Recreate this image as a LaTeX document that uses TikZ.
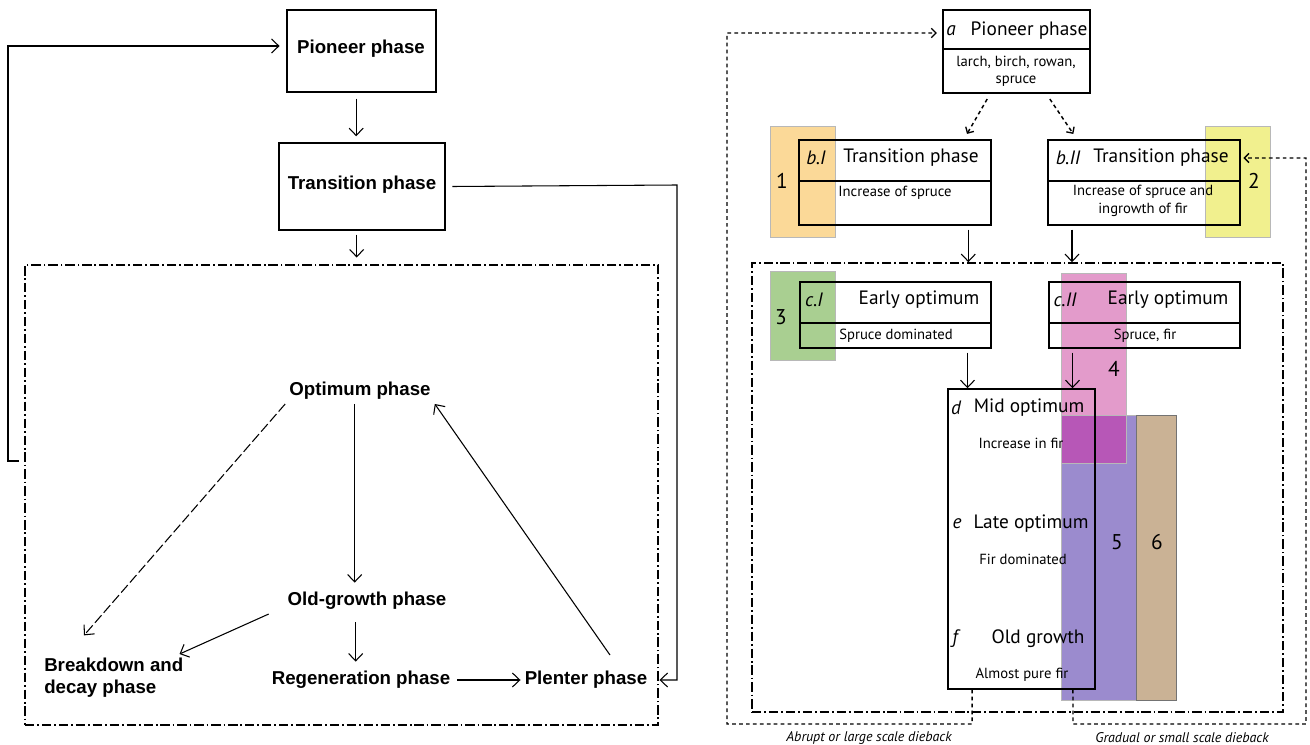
\documentclass[tikz,border=0pt]{standalone}
\usepackage{fontspec}
\setmainfont{PT Sans}
\newfontfamily\lfont{Liberation Sans}
\usetikzlibrary{arrows.meta,fit}
\definecolor{cOr}{HTML}{FBD998}
\definecolor{cYe}{HTML}{F1F08E}
\definecolor{cGr}{HTML}{A9CF91}
\definecolor{cPk}{HTML}{E39BCB}
\definecolor{cMg}{HTML}{B757B7}
\definecolor{cPu}{HTML}{9B8BCE}
\definecolor{cTa}{HTML}{CAB295}
\begin{document}
\begin{tikzpicture}[x=0.75pt,y=-0.75pt,
  box/.style={draw, line width=1.1pt, inner sep=0pt, fit={#1}},
  patch/.style={draw=black!28, line width=0.7pt, fill=#1, inner sep=0pt},
  lt/.style={font=\lfont\bfseries\fontsize{14}{16.5}\selectfont, inner sep=3pt},
  ht/.style={font=\fontsize{14.5}{17}\selectfont, inner sep=0pt},
  st/.style={font=\fontsize{11}{13}\selectfont, inner sep=0pt, align=center},
  num/.style={font=\fontsize{16}{18}\selectfont, inner sep=0pt},
  captxt/.style={font=\itshape\fontsize{10.5}{12}\selectfont, inner sep=0pt},
  arr/.style={line width=0.8pt, -{Straight Barb[length=5.5pt,width=10.5pt,line width=0.8pt]}},
  darr/.style={line width=1.1pt, dash pattern=on 2.8pt off 2.4pt, -{Straight Barb[length=3.5pt,width=7pt,line width=1pt]}},
  ddot/.style={draw, line width=1.2pt, dash pattern=on 7pt off 2.2pt on 1.3pt off 2.2pt, inner sep=0pt}]
\useasboundingbox (0,0) rectangle (1310,745);

% ---------------- left diagram ----------------
\node[box={(287,10) (436,92)}] (pioL) {};
\node[lt] (pioLt) at (361,49) {Pioneer phase};
\node[box={(279,143) (445,230)}] (traL) {};
\node[lt] (traLt) at (362,185) {Transition phase};
\node[ddot, fit={(25,265) (658,725)}] (cycL) {};

\node[lt] (opt) at (360,391) {Optimum phase};
\node[lt] (old) at (367,601) {Old-growth phase};
\node[lt, align=left, anchor=west] (brk) at (40,678) {Breakdown and\\decay phase};
\node[lt] (reg) at (361,680) {Regeneration phase};
\node[lt] (plen) at (586,680) {Plenter phase};

\draw[arr, shorten <=4.5pt, shorten >=4.5pt] ([xshift=-4pt]pioL.south) -- ([xshift=-4pt]pioL.south |- traL.north);
\draw[arr, shorten <=3pt, shorten >=5pt] ([xshift=-4pt]traL.south) -- ([xshift=-4pt]traL.south |- cycL.north);
\coordinate (trR) at (677,185);
\coordinate (trB) at (677,680);
\draw[arr] ([xshift=5pt]traL.east) -- (trR) -- (trB) -- ([xshift=6pt]plen.east);
\coordinate (fA) at (19,461);
\coordinate (fB) at (8,461);
\coordinate (fC) at (8,46);
\draw[arr] (fA) -- (fB) -- (fC) -- ([xshift=-5pt]pioL.west |- fC);

\draw[arr, shorten >=4pt] ([xshift=-4pt]opt.south) -- ([xshift=-4pt]opt.south |- old.north);
\draw[arr, dash pattern=on 7.5pt off 2.5pt] (opt.south west) -- ([xshift=33pt,yshift=14pt]brk.north west);
\draw[arr] ([xshift=-11pt]old.south west) -- ([xshift=-6pt]brk.north east);
\draw[arr, shorten <=6pt, shorten >=4pt] ([xshift=-4pt]reg.north |- old.south) -- ([xshift=-4pt]reg.north);
\draw[arr, shorten <=2pt] (reg.east) -- (plen.west);
\draw[arr] ([xshift=18pt,yshift=9pt]plen.north) -- (opt.south east);

% ---------------- right diagram ----------------
% coloured bands
\node[patch=cOr, fit={(770,126) (835,237)}] (p1) {};
\node[patch=cYe, fit={(1205,126) (1270,237)}] (p2) {};
\node[patch=cGr, fit={(770,271) (835,360)}] (p3) {};
\node[patch=cPu, fit={(1061,415) (1136,700)}] (p5) {};
\node[patch=cTa, draw=black!55, fit={(1136,415) (1176,700)}] (p6) {};
\node[patch=cPk, fit={(1061,273) (1126,463)}] (p4) {};
\node[patch=cMg, fit={(1061,415) (1126,463)}] (p45) {};
\node[num] (n1) at (782,181) {1};
\node[num] (n2) at (1254,181) {2};
\node[num] (n3) at (781,317) {3};
\node[num] (n4) at (1114,369) {4};
\node[num] (n5) at (1117,542) {5};
\node[num] (n6) at (1157,542) {6};

% boxes
\node[box={(943,10) (1090,49)}] (pioRt) {};
\node[box={(943,49) (1090,93)}] (pioRb) {};
\node[box={(799,140) (991,181)}] (bIt) {};
\node[box={(799,181) (991,225)}] (bIb) {};
\node[box={(1048,140) (1240,181)}] (bIIt) {};
\node[box={(1048,181) (1240,225)}] (bIIb) {};
\node[box={(800,282) (991,323)}] (cIt) {};
\node[box={(800,323) (991,348)}] (cIb) {};
\node[box={(1049,282) (1240,323)}] (cIIt) {};
\node[box={(1049,323) (1240,348)}] (cIIb) {};
\node[box={(948,389) (1095,689)}] (dbox) {};
\node[ddot, fit={(752,263) (1283,712)}] (cycR) {};

% texts
\node[ht] (aL) at (951,31) {\itshape a};
\node[ht] (aT) at (1029,31) {Pioneer phase};
\node[st] (aS) at (1016,71) {larch, birch, rowan,\\spruce};
\node[ht] (bIL) at (816,158) {\itshape b.I};
\node[ht] (bIT) at (911,158) {Transition phase};
\node[st] (bIS) at (895,193) {Increase of spruce};
\node[ht] (bIIL) at (1068,158) {\itshape b.II};
\node[ht] (bIIT) at (1161,158) {Transition phase};
\node[st] (bIIS) at (1143,201) {Increase of spruce and\\ingrowth of fir};
\node[ht] (cIL) at (814,300) {\itshape c.I};
\node[ht] (cIT) at (919,300) {Early optimum};
\node[st] (cIS) at (896,336) {Spruce dominated};
\node[ht] (cIIL) at (1065,300) {\itshape c.II};
\node[ht] (cIIT) at (1168,300) {Early optimum};
\node[st] (cIIS) at (1145,336) {Spruce, fir};
\node[ht] (dL) at (956,408) {\itshape d};
\node[ht] (dT) at (1029,408) {Mid optimum};
\node[st] (dS) at (1021,443) {Increase in fir};
\node[ht] (eL) at (957,524) {\itshape e};
\node[ht] (eT) at (1031,524) {Late optimum};
\node[st] (eS) at (1023,559) {Fir dominated};
\node[ht] (fL) at (955,639) {\itshape f};
\node[ht] (fT) at (1038,639) {Old growth};
\node[st] (fS) at (1022,675) {Almost pure fir};
\node[captxt] (capA) at (869,738) {Abrupt or large scale dieback};
\node[captxt] (capG) at (1182,738) {Gradual or small scale dieback};

% connectors
\draw[darr] ([xshift=-22pt,yshift=-4pt]pioRb.south) -- ([xshift=54pt,yshift=4pt]bIt.north);
\draw[darr] ([xshift=25pt,yshift=-4pt]pioRb.south) -- ([xshift=-53pt,yshift=4pt]bIIt.north);
\draw[arr, shorten <=3pt] ([xshift=55pt]bIb.south) -- ([xshift=55pt]bIb.south |- cycR.north);
\draw[arr, shorten <=3pt] ([xshift=-54pt]bIIb.south) -- ([xshift=-54pt]bIIb.south |- cycR.north);
\draw[arr, shorten <=3pt] ([xshift=54pt]cIb.south) -- ([xshift=54pt]cIb.south |- dbox.north);
\draw[arr, shorten <=3pt] ([xshift=-54pt]cIIb.south) -- ([xshift=-54pt]cIIb.south |- dbox.north);

\coordinate (lA) at (972,724);
\coordinate (lB) at (727,724);
\coordinate (lC) at (727,33);
\draw[darr] ([xshift=-37pt]dbox.south) -- (lA) -- (lB) -- (lC) -- ([xshift=-4pt]pioRt.west |- lC);
\coordinate (rA) at (1073,724);
\coordinate (rB) at (1306,724);
\coordinate (rC) at (1306,158);
\draw[darr] ([xshift=38.6pt]dbox.south) -- (rA) -- (rB) -- (rC) -- ([xshift=2pt]bIIt.east |- rC);
\end{tikzpicture}
\end{document}
